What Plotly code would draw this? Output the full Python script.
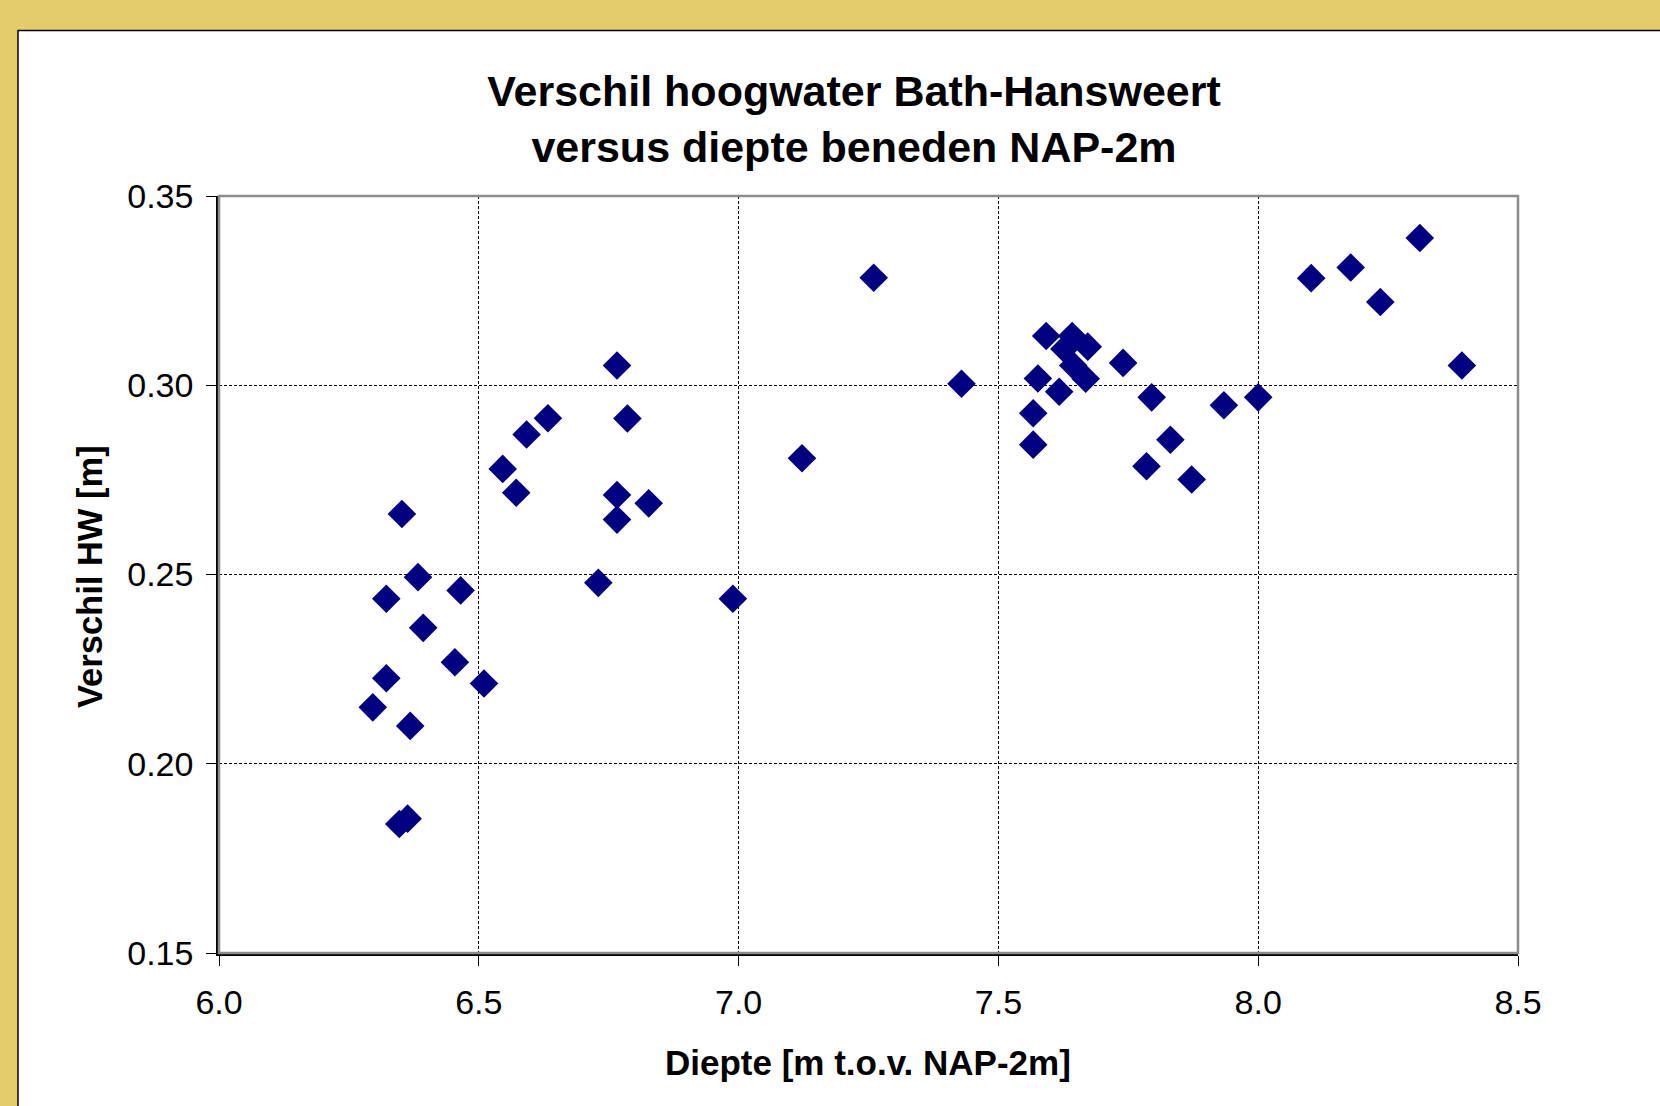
import plotly.graph_objects as go

# Data
diepte = [6.296, 6.322, 6.322, 6.352, 6.383, 6.368, 6.347, 6.363, 6.393, 6.454,
          6.465, 6.510, 6.546, 6.572, 6.592, 6.633, 6.730, 6.766, 6.766, 6.766,
          6.786, 6.827, 6.989, 7.122, 7.260, 7.429, 7.567, 7.567, 7.576, 7.592,
          7.617, 7.642, 7.627, 7.672, 7.644, 7.668, 7.740, 7.795, 7.785, 7.831,
          7.872, 7.934, 8.000, 8.102, 8.178, 8.235, 8.311, 8.392]
verschil_hw = [0.2149, 0.2436, 0.2226, 0.2660, 0.2493, 0.2100, 0.1841, 0.1855, 0.2359, 0.2268,
               0.2458, 0.2212, 0.2779, 0.2716, 0.2870, 0.2913, 0.2478, 0.3052, 0.2710, 0.2645,
               0.2912, 0.2688, 0.2436, 0.2807, 0.3284, 0.3004, 0.2926, 0.2843, 0.3018, 0.3130,
               0.2983, 0.3130, 0.3096, 0.3102, 0.3052, 0.3017, 0.3059, 0.2968, 0.2786, 0.2856,
               0.2751, 0.2947, 0.2968, 0.3283, 0.3311, 0.3220, 0.3389, 0.3052]

x_ticks = [6.0, 6.5, 7.0, 7.5, 8.0, 8.5]
y_ticks = [0.15, 0.20, 0.25, 0.30, 0.35]

title_text = "Verschil hoogwater Bath-Hansweert<br>versus diepte beneden NAP-2m"
x_title = "Diepte [m t.o.v. NAP-2m]"
y_title = "Verschil HW [m]"

W, H = 1660, 1106
L, R, T, B = 219, 142, 196, 153
pw = W - L - R
ph = H - T - B
FONT = "Liberation Sans, Arial, sans-serif"
YELLOW = "#E4CC6A"

fig = go.Figure()
fig.add_trace(go.Scatter(
    x=diepte, y=verschil_hw, mode="markers",
    marker=dict(symbol="diamond", size=22, color="#000080", line=dict(width=0)),
    showlegend=False, cliponaxis=False,
))

# white panel with black border (extends past the right/bottom edges)
fig.add_shape(type="rect", xref="paper", yref="paper", layer="below",
              x0=(18 - L) / pw, x1=(W + 20 - L) / pw,
              y0=-(H + 20 - T - ph) / ph, y1=(T - 30.5) / ph + 1,
              fillcolor="white", line=dict(color="black", width=1.5))
# plot frame (gray top/right)
fig.add_shape(type="rect", xref="paper", yref="paper", layer="above",
              x0=0, x1=1, y0=0, y1=1, line=dict(color="#8c8c8c", width=2.5))

fig.update_layout(
    width=W, height=H,
    margin=dict(l=L, r=R, t=T, b=B),
    paper_bgcolor=YELLOW,
    plot_bgcolor="white",
    font=dict(family=FONT, color="black"),
    title=dict(text="<b>" + title_text + "</b>", font=dict(size=43, family=FONT, color="black"),
               x=854 / W, xanchor="center", xref="container",
               y=1 - 106 / H, yanchor="top", yref="container"),
    xaxis=dict(range=[6.0, 8.5], tickvals=x_ticks, tickformat=".1f",
               showgrid=True, gridcolor="black", gridwidth=1, griddash="3px,2px",
               zeroline=False, showline=True, linecolor="black", linewidth=2.5,
               ticks="outside", ticklen=10, tickcolor="black", tickwidth=1,
               tickfont=dict(size=34, family=FONT, color="black"),
               ticklabelstandoff=7),
    yaxis=dict(range=[0.15, 0.35], tickvals=y_ticks, tickformat=".2f",
               showgrid=True, gridcolor="black", gridwidth=1, griddash="3px,2px",
               zeroline=False, showline=True, linecolor="black", linewidth=2.5,
               ticks="outside", ticklen=10, tickcolor="black", tickwidth=1,
               tickfont=dict(size=34, family=FONT, color="black"),
               ticklabelstandoff=6),
    annotations=[
        dict(text="<b>" + x_title + "</b>", xref="paper", yref="paper",
             x=(868 - L) / pw, y=(T + ph - 1062) / ph, xanchor="center", yanchor="middle",
             showarrow=False, font=dict(size=35, family=FONT, color="black")),
        dict(text="<b>" + y_title + "</b>", xref="paper", yref="paper",
             x=(90 - L) / pw, y=(T + ph - 577) / ph, xanchor="center", yanchor="middle",
             textangle=-90, showarrow=False, font=dict(size=34.5, family=FONT, color="black")),
    ],
)

fig.write_html(
    "out.html",
    config={"displayModeBar": False},
    post_script="document.body.style.margin='0';document.body.style.background='" + YELLOW + "';",
)
